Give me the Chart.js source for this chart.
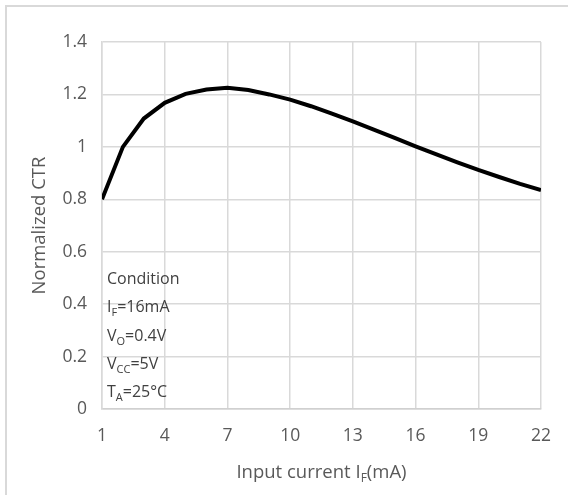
<!DOCTYPE html>
<html>
<head>
<meta charset="utf-8">
<script src="https://cdn.jsdelivr.net/npm/chart.js@4.4.1/dist/chart.umd.min.js"></script>
<style>
  html, body { margin: 0; padding: 0; background: #fff; overflow: hidden; }
  #wrap { position: relative; width: 568px; height: 495px; }
  #frame {
    position: absolute; left: 5px; top: 5px; width: 600px; height: 600px;
    border: 2px solid #d9d9d9; pointer-events: none;
  }
  canvas { position: absolute; left: 0; top: 0; }
</style>
</head>
<body>
<div id="wrap">
  <div id="frame"></div>
  <canvas id="ctr-chart" width="568" height="495"></canvas>
</div>
<script>
// data
var inputCurrent = [1, 2, 3, 4, 5, 6, 7, 8, 9, 10, 11, 12, 13, 14, 15, 16, 17, 18, 19, 20, 21, 22];
var normalizedCtr = [0.80, 1.00, 1.108, 1.168, 1.202, 1.219, 1.225, 1.217, 1.200, 1.180, 1.155, 1.127,
                     1.097, 1.066, 1.034, 1.002, 0.971, 0.941, 0.912, 0.885, 0.859, 0.835];
var xTicks = [1, 4, 7, 10, 13, 16, 19, 22];
var yTicks = [0, 0.2, 0.4, 0.6, 0.8, 1, 1.2, 1.4];

var yTitle = "Normalized CTR";
var xTitle = [["Input current I"], ["F", true], ["(mA)"]];
var conditionLines = [
  [["Condition"]],
  [["I"], ["F", true], ["=16mA"]],
  [["V"], ["O", true], ["=0.4V"]],
  [["V"], ["CC", true], ["=5V"]],
  [["T"], ["A", true], ["=25\u00B0C"]]
];

var FONT = "'Open Sans', 'Noto Sans', sans-serif";

// draws text made of normal and subscript pieces
function drawParts(ctx, parts, x, y, size, subSize, align) {
  var widths = parts.map(function (p) {
    ctx.font = (p[1] ? subSize : size) + "px " + FONT;
    return ctx.measureText(p[0]).width;
  });
  var total = widths.reduce(function (a, b) { return a + b; }, 0);
  var cx = align === "center" ? x - total / 2 : x;
  ctx.textAlign = "left";
  ctx.textBaseline = "alphabetic";
  parts.forEach(function (p, i) {
    ctx.font = (p[1] ? subSize : size) + "px " + FONT;
    ctx.fillText(p[0], cx, p[1] ? y + 4 : y);
    cx += widths[i];
  });
}

var textPlugin = {
  id: "textPlugin",
  afterDraw: function (chart) {
    var ctx = chart.ctx;
    var area = chart.chartArea;
    ctx.save();

    // y axis title
    ctx.fillStyle = "#595959";
    ctx.font = "18.5px " + FONT;
    ctx.textAlign = "center";
    ctx.textBaseline = "middle";
    ctx.translate(40, (area.top + area.bottom) / 2);
    ctx.rotate(-Math.PI / 2);
    ctx.fillText(yTitle, 0, 0);
    ctx.setTransform(1, 0, 0, 1, 0, 0);

    // x axis title
    drawParts(ctx, xTitle, (area.left + area.right) / 2, 478, 18.5, 12, "center");

    // condition box
    ctx.fillStyle = "#404040";
    conditionLines.forEach(function (line, i) {
      drawParts(ctx, line, area.left + 5, area.bottom - 125 + i * 28.3, 16, 11, "left");
    });
    ctx.restore();
  }
};

var ctx = document.getElementById("ctr-chart");

var chart = new Chart(ctx, {
  type: "line",
  data: {
    labels: inputCurrent,
    datasets: [{
      label: "Normalized CTR",
      data: inputCurrent.map(function (x, i) { return { x: x, y: normalizedCtr[i] }; }),
      borderColor: "#000000",
      borderWidth: 4,
      pointRadius: 0,
      tension: 0,
      fill: false
    }]
  },
  options: {
    responsive: false,
    animation: false,
    layout: { padding: { left: 0, top: 42, right: 24, bottom: 0 } },
    plugins: {
      legend: { display: false },
      tooltip: { enabled: false }
    },
    scales: {
      x: {
        type: "linear",
        min: 1,
        max: 22,
        afterBuildTicks: function (scale) {
          scale.ticks = xTicks.map(function (v) { return { value: v }; });
        },
        afterFit: function (scale) { scale.height = 86; },
        grid: { color: "#d9d9d9", lineWidth: 1.5, drawTicks: false },
        border: { color: "#d0d0d0", width: 1.5 },
        ticks: {
          padding: 17,
          color: "#595959",
          font: { family: FONT, size: 17.5 },
          maxRotation: 0
        }
      },
      y: {
        min: 0,
        max: 1.4,
        afterBuildTicks: function (scale) {
          scale.ticks = yTicks.map(function (v) { return { value: v }; });
        },
        afterFit: function (scale) { scale.width = 102; },
        grid: { color: "#d9d9d9", lineWidth: 1.5, drawTicks: false },
        border: { color: "#d9d9d9", width: 1.5 },
        ticks: {
          padding: 15,
          color: "#595959",
          font: { family: FONT, size: 17.5 },
          callback: function (v) { return String(Math.round(v * 10) / 10); }
        }
      }
    }
  },
  plugins: [textPlugin]
});
</script>
</body>
</html>
